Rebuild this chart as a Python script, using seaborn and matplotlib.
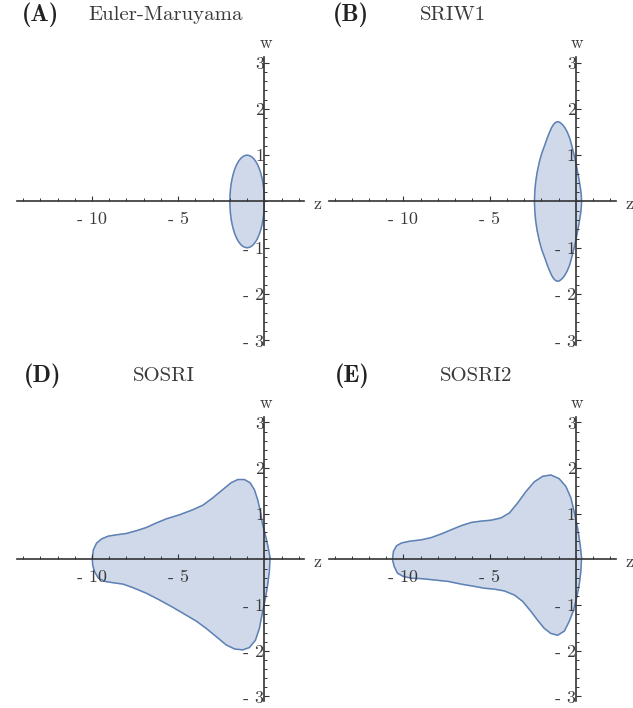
import numpy as np
import pandas as pd
import matplotlib
matplotlib.use("Agg")
import matplotlib.pyplot as plt
import seaborn as sns

# ---- data: boundary points (z, w) of each stability region ----
em_z = [0.0, -0.009, -0.034, -0.076, -0.134, -0.207, -0.293, -0.391, -0.50, -0.617, -0.741, -0.869,
        -1.00, -1.131, -1.259, -1.383, -1.50, -1.609, -1.707, -1.793, -1.866, -1.924, -1.966, -1.991,
        -2.00, -1.991, -1.966, -1.924, -1.866, -1.793, -1.707, -1.609, -1.50, -1.383, -1.259, -1.131,
        -1.00, -0.869, -0.741, -0.617, -0.50, -0.391, -0.293, -0.207, -0.134, -0.076, -0.034, -0.009, 0.0]
em_w = [0.0, 0.131, 0.259, 0.383, 0.50, 0.609, 0.707, 0.793, 0.866, 0.924, 0.966, 0.991,
        1.00, 0.991, 0.966, 0.924, 0.866, 0.793, 0.707, 0.609, 0.50, 0.383, 0.259, 0.131,
        0.0, -0.131, -0.259, -0.383, -0.50, -0.609, -0.707, -0.793, -0.866, -0.924, -0.966, -0.991,
        -1.00, -0.991, -0.966, -0.924, -0.866, -0.793, -0.707, -0.609, -0.50, -0.383, -0.259, -0.131, 0.0]

sriw1_z = [0.33, 0.32, 0.28, 0.18, 0.06, -0.05, -0.20, -0.35, -0.50, -0.65, -0.78, -0.90, -1.00, -1.10,
           -1.20, -1.30, -1.40, -1.52, -1.65, -1.80, -1.97, -2.12, -2.25, -2.33, -2.38, -2.40,
           -2.38, -2.33, -2.25, -2.12, -1.97, -1.80, -1.65, -1.52, -1.40, -1.30, -1.20, -1.10, -1.00,
           -0.90, -0.78, -0.65, -0.50, -0.35, -0.20, -0.05, 0.06, 0.18, 0.28, 0.32, 0.33]
sriw1_w = [0.0, 0.10, 0.25, 0.48, 0.72, 0.92, 1.15, 1.36, 1.50, 1.60, 1.66, 1.70, 1.72, 1.72,
           1.70, 1.66, 1.60, 1.50, 1.38, 1.22, 1.05, 0.85, 0.62, 0.42, 0.22, 0.0,
           -0.22, -0.42, -0.62, -0.85, -1.05, -1.22, -1.38, -1.50, -1.60, -1.66, -1.70, -1.72, -1.72,
           -1.70, -1.66, -1.60, -1.50, -1.36, -1.15, -0.92, -0.72, -0.48, -0.25, -0.10, 0.0]

sosri_z = [0.33, 0.25, 0.10, -0.10, -0.23, -0.39, -0.58, -0.83, -1.16, -1.54, -1.93, -2.41, -2.99,
           -3.56, -4.14, -4.91, -5.68, -6.26, -6.84, -7.42, -7.99, -8.57, -9.06, -9.44, -9.73, -9.92,
           -9.98, -9.96, -9.86, -9.63, -9.25, -8.76, -8.19, -7.61, -6.84, -6.07, -5.30, -4.53, -3.95,
           -3.37, -2.79, -2.22, -1.73, -1.25, -0.87, -0.52, -0.29, -0.10, 0.06, 0.19, 0.29, 0.33]
sosri_w = [0.03, 0.21, 0.47, 0.76, 1.05, 1.31, 1.53, 1.68, 1.75, 1.75, 1.68, 1.53, 1.35,
           1.19, 1.09, 0.98, 0.89, 0.80, 0.70, 0.63, 0.57, 0.54, 0.51, 0.45, 0.36, 0.21,
           0.03, -0.12, -0.26, -0.41, -0.48, -0.51, -0.54, -0.62, -0.74, -0.89, -1.05, -1.22, -1.35,
           -1.51, -1.69, -1.87, -1.96, -1.98, -1.93, -1.77, -1.51, -1.14, -0.85, -0.56, -0.26, 0.03]

sosri2_z = [0.33, 0.25, 0.10, -0.10, -0.29, -0.58, -0.97, -1.45, -1.93, -2.41, -2.89, -3.37, -3.85,
            -4.34, -4.91, -5.49, -6.07, -6.65, -7.23, -7.80, -8.38, -8.96, -9.63, -10.12, -10.40, -10.58,
            -10.64, -10.54, -10.35, -10.02, -9.54, -8.96, -8.19, -7.42, -6.65, -5.88, -5.30, -4.72, -4.14,
            -3.56, -3.08, -2.60, -2.22, -1.83, -1.45, -1.06, -0.67, -0.39, -0.13, 0.04, 0.19, 0.29, 0.33]
sosri2_w = [0.03, 0.32, 0.69, 1.05, 1.35, 1.60, 1.77, 1.85, 1.82, 1.70, 1.49, 1.24, 1.02,
            0.91, 0.86, 0.84, 0.81, 0.74, 0.65, 0.56, 0.48, 0.43, 0.40, 0.36, 0.30, 0.18,
            0.0, -0.15, -0.30, -0.37, -0.41, -0.42, -0.45, -0.48, -0.54, -0.59, -0.63, -0.65, -0.69,
            -0.78, -0.92, -1.14, -1.33, -1.51, -1.62, -1.66, -1.57, -1.36, -1.11, -0.85, -0.56, -0.26, 0.03]

panel_tags = ["(A)", "(B)", "(D)", "(E)"]
panel_names = ["Euler-Maruyama", "SRIW1", "SOSRI", "SOSRI2"]
x_major = [-10, -5]
x_labels = ["- 10", "- 5"]
y_major = [-3, -2, -1, 1, 2, 3]
y_labels = ["- 3", "- 2", "- 1", "1", "2", "3"]

frames = []
for name, zs, ws in zip(panel_names, [em_z, sriw1_z, sosri_z, sosri2_z], [em_w, sriw1_w, sosri_w, sosri2_w]):
    frames.append(pd.DataFrame({"method": name, "z": zs, "w": ws, "order": range(len(zs))}))
df = pd.concat(frames, ignore_index=True)

sns.set_style("white")
plt.rcParams["font.family"] = ["cmr10", "DejaVu Serif"]
plt.rcParams["axes.unicode_minus"] = False

W, H = 633, 708
fig = plt.figure(figsize=(W / 100, H / 100), dpi=100)

edge = "#5E81B5"
fillc = "#CFD9E9"
axc = "#333333"
txtc = "#3a3a3a"

# axes boxes in pixels: (left, top, right, bottom)
boxes = [(17, 57, 304, 345), (328.5, 57, 615.5, 345), (17, 417, 304, 701), (328.5, 417, 615.5, 701)]
title_pos = [(22, 88, 15), (333, 420, 15), (24, 133, 376), (335, 440, 376)]

for i, name in enumerate(panel_names):
    l, t, r, b = boxes[i]
    ax = fig.add_axes([l / W, 1 - b / H, (r - l) / W, (b - t) / H])
    ax.set_axisbelow(False)
    sub = df[df["method"] == name]
    ax.fill(sub["z"], sub["w"], color=fillc, zorder=1)
    sns.lineplot(data=sub, x="z", y="w", sort=False, estimator=None, color=edge, lw=1.1, ax=ax, zorder=2)
    ax.set_xlim(-14.35, 2.3)
    ax.set_ylim(-3.1, 3.12)
    for s in ["top", "right"]:
        ax.spines[s].set_visible(False)
    ax.spines["left"].set_position(("data", 0))
    ax.spines["bottom"].set_position(("data", 0))
    for s in ["left", "bottom"]:
        ax.spines[s].set_color(axc)
        ax.spines[s].set_linewidth(1.2)
        ax.spines[s].set_zorder(3)
    ax.set_xticks(x_major)
    ax.set_xticklabels(x_labels)
    ax.set_xticks(range(-14, 3), minor=True)
    ax.set_yticks(y_major)
    ax.set_yticklabels(y_labels)
    ax.set_yticks(np.arange(-3, 3.01, 0.2), minor=True)
    ax.tick_params(bottom=True, left=True, top=False, right=False, which="both")
    ax.tick_params(axis="x", which="major", direction="in", length=3.5, width=0.8, color=axc,
                   labelsize=13, pad=7, labelcolor=txtc)
    ax.tick_params(axis="x", which="minor", direction="in", length=2, width=0.7, color=axc)
    ax.tick_params(axis="y", which="major", direction="in", length=3.5, width=0.8, color=axc,
                   labelsize=13, pad=0, labelcolor=txtc)
    ax.tick_params(axis="y", which="minor", direction="in", length=2, width=0.7, color=axc)
    ax.set_xlabel("")
    ax.set_ylabel("")
    ax.patch.set_alpha(0)
    # axis name labels
    ax.annotate("w", xy=(0, 1.0), xycoords=("data", "axes fraction"), xytext=(1, 4),
                textcoords="offset points", ha="center", va="bottom", fontsize=12.5, color=txtc)
    ax.annotate("z", xy=(1.0, 0), xycoords=("axes fraction", "data"), xytext=(7, -2),
                textcoords="offset points", ha="left", va="center", fontsize=13, color=txtc)
    # titles
    tx, nx, ty = title_pos[i]
    fig.text(tx / W, 1 - ty / H, panel_tags[i], family=["cmb10", "DejaVu Serif"], fontsize=17.5,
             ha="left", va="center", color="#222222")
    fig.text(nx / W, 1 - ty / H, panel_names[i], fontsize=15, ha="left", va="center", color=txtc)

fig.savefig("out.png", dpi=100)
